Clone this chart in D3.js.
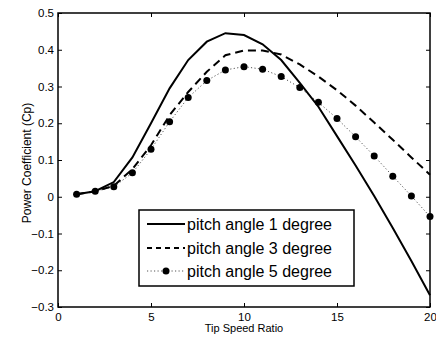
<!DOCTYPE html>
<html>
<head>
<meta charset="utf-8">
<script src="https://cdn.jsdelivr.net/npm/d3@7"></script>
<style>
  body { margin: 0; background: #fff; }
  svg { display: block; font-family: "Liberation Sans", Arial, Helvetica, sans-serif; }
</style>
</head>
<body>
<svg id="chart"></svg>
<script>
var tsr = [1,2,3,4,5,6,7,8,9,10,11,12,13,14,15,16,17,18,19,20];
var pitch1 = [0.007,0.015,0.04,0.107,0.2,0.295,0.372,0.422,0.445,0.44,0.415,0.372,0.31,0.245,0.165,0.085,0.002,-0.085,-0.175,-0.268];
var pitch3 = [0.007,0.015,0.03,0.075,0.14,0.222,0.285,0.34,0.385,0.398,0.398,0.387,0.36,0.327,0.29,0.248,0.202,0.155,0.107,0.06];
var pitch5 = [0.007,0.015,0.027,0.065,0.129,0.204,0.27,0.316,0.345,0.354,0.347,0.327,0.297,0.257,0.213,0.163,0.111,0.056,0.002,-0.054];
var xTicks = [0,5,10,15,20];
var yTicks = [0.5,0.4,0.3,0.2,0.1,0,-0.1,-0.2,-0.3];
var legendLabels = ["pitch angle 1 degree","pitch angle 3 degree","pitch angle 5 degree"];

var width = 436, height = 338;
var margin = {top: 13, right: 6, bottom: 31, left: 58};
var w = width - margin.left - margin.right,
    h = height - margin.top - margin.bottom;

var svg = d3.select("#chart").attr("width", width).attr("height", height);
svg.append("rect").attr("width", width).attr("height", height).attr("fill", "#fff");

var g = svg.append("g").attr("transform", "translate(" + margin.left + "," + margin.top + ")");

var x = d3.scaleLinear().domain([0, 20]).range([0, w]);
var y = d3.scaleLinear().domain([-0.3, 0.5]).range([h, 0]);

function fmt(d) { return d === 0 ? "0" : d3.format(".1f")(d).replace("-", "\u2212"); }

var ax = [
  g.append("g").attr("transform", "translate(0," + h + ")")
    .call(d3.axisBottom(x).tickValues(xTicks).tickSize(-4).tickPadding(6).tickFormat(d3.format("d"))),
  g.append("g")
    .call(d3.axisLeft(y).tickValues(yTicks).tickSize(-4).tickPadding(4).tickFormat(fmt)),
  g.append("g")
    .call(d3.axisTop(x).tickValues(xTicks).tickSize(-4).tickFormat("")),
  g.append("g").attr("transform", "translate(" + w + ",0)")
    .call(d3.axisRight(y).tickValues(yTicks).tickSize(-4).tickFormat(""))
];
ax.forEach(function (a) {
  a.select(".domain").remove();
  a.selectAll("line").attr("stroke", "#000").attr("stroke-width", 1);
  a.selectAll("text").attr("font-size", 11.5).attr("fill", "#000").attr("font-family", null);
});

g.append("rect").attr("width", w).attr("height", h)
  .attr("fill", "none").attr("stroke", "#000").attr("stroke-width", 1.5);

var line = d3.line().x(function (d) { return x(d[0]); }).y(function (d) { return y(d[1]); });

function pts(vals) { return tsr.map(function (t, i) { return [t, vals[i]]; }); }

g.append("path").datum(pts(pitch5)).attr("d", line)
  .attr("fill", "none").attr("stroke", "#555").attr("stroke-width", 1).attr("stroke-dasharray", "1.2,2.3");
g.selectAll(".dot").data(pts(pitch5)).enter().append("circle")
  .attr("class", "dot")
  .attr("cx", function (d) { return x(d[0]); })
  .attr("cy", function (d) { return y(d[1]); })
  .attr("r", 3.5).attr("fill", "#000");
g.append("path").datum(pts(pitch3)).attr("d", line)
  .attr("fill", "none").attr("stroke", "#000").attr("stroke-width", 2).attr("stroke-dasharray", "8,5");
g.append("path").datum(pts(pitch1)).attr("d", line)
  .attr("fill", "none").attr("stroke", "#000").attr("stroke-width", 2);

// axis titles
svg.append("text").attr("x", margin.left + w / 2).attr("y", 332)
  .attr("text-anchor", "middle").attr("font-size", 11).text("Tip Speed Ratio");
svg.append("text").attr("transform", "translate(31," + (margin.top + h / 2 + 3) + ") rotate(-90)")
  .attr("text-anchor", "middle").attr("font-size", 12).text("Power Coefficient (Cp)");

// legend
var lg = svg.append("g").attr("transform", "translate(139,210)");
lg.append("rect").attr("width", 215).attr("height", 76)
  .attr("fill", "#fff").attr("stroke", "#000").attr("stroke-width", 1.5);
var rows = [14, 38, 61];
var styles = [
  {dash: null, color: "#000", sw: 2},
  {dash: "5,4", color: "#000", sw: 2},
  {dash: "1.2,2.3", color: "#555", sw: 1}
];
legendLabels.forEach(function (lab, i) {
  lg.append("line").attr("x1", 8).attr("x2", 46).attr("y1", rows[i]).attr("y2", rows[i])
    .attr("stroke", styles[i].color).attr("stroke-width", styles[i].sw)
    .attr("stroke-dasharray", styles[i].dash);
  if (i === 2) lg.append("circle").attr("cx", 27).attr("cy", rows[i]).attr("r", 3.5).attr("fill", "#000");
  lg.append("text").attr("x", 48).attr("y", rows[i]).attr("dy", "0.35em")
    .attr("font-size", 16).text(lab);
});
</script>
</body>
</html>
